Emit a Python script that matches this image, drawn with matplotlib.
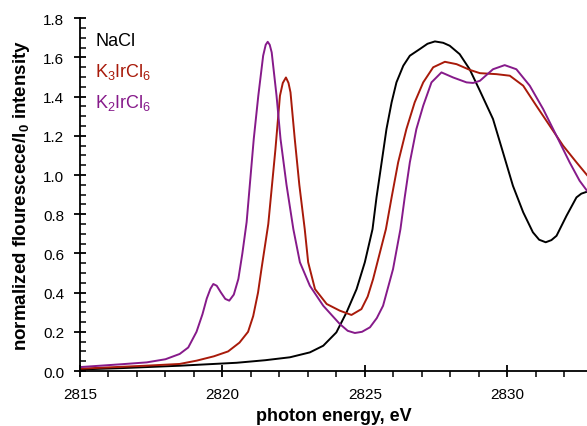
import matplotlib
matplotlib.use("Agg")
import matplotlib.pyplot as plt
from matplotlib.ticker import MultipleLocator, FormatStrFormatter

plt.rcParams["font.family"] = ["Liberation Sans", "DejaVu Sans"]

# NaCl reference
nacl_x = [2815, 2816.5, 2818.5, 2820.5, 2821.5, 2822.37, 2823.07, 2823.54, 2824.0,
          2824.36, 2824.71, 2825.0, 2825.27, 2825.41, 2825.59, 2825.76, 2825.94,
          2826.11, 2826.35, 2826.58, 2826.93, 2827.2, 2827.46, 2827.75, 2827.98,
          2828.33, 2828.68, 2829.04, 2829.5, 2829.85, 2830.2, 2830.56, 2830.9,
          2831.12, 2831.35, 2831.55, 2831.73, 2832.08, 2832.43, 2832.6, 2832.8]
nacl_y = [0.008, 0.015, 0.027, 0.042, 0.055, 0.07, 0.095, 0.129, 0.197,
          0.30, 0.418, 0.555, 0.724, 0.886, 1.065, 1.235, 1.371,
          1.473, 1.558, 1.609, 1.643, 1.67, 1.682, 1.675, 1.66,
          1.617, 1.54, 1.43, 1.286, 1.116, 0.945, 0.81, 0.708,
          0.67, 0.657, 0.668, 0.69, 0.792, 0.886, 0.905, 0.915]

# K3IrCl6
k3_x = [2815, 2817.3, 2818.5, 2819.1, 2819.7, 2820.2, 2820.6, 2820.9, 2821.08,
        2821.25, 2821.37, 2821.61, 2821.86, 2822.02, 2822.12, 2822.23, 2822.32,
        2822.39, 2822.54, 2822.7, 2822.89, 2823.01, 2823.25, 2823.66, 2824.12,
        2824.53, 2824.88, 2825.1, 2825.29, 2825.59, 2825.74, 2825.94, 2826.17,
        2826.46, 2826.75, 2827.05, 2827.4, 2827.81, 2828.22, 2828.68, 2829.04,
        2829.62, 2830.09, 2830.56, 2831.02, 2831.49, 2831.96, 2832.43, 2832.8]
k3_y = [0.012, 0.027, 0.036, 0.053, 0.075, 0.10, 0.145, 0.2, 0.28,
        0.40, 0.52, 0.75, 1.13, 1.405, 1.47, 1.498, 1.47,
        1.422, 1.184, 0.95, 0.724, 0.555, 0.418, 0.342, 0.308,
        0.286, 0.316, 0.38, 0.469, 0.639, 0.724, 0.886, 1.065,
        1.235, 1.371, 1.473, 1.55, 1.578, 1.566, 1.537, 1.52,
        1.515, 1.507, 1.456, 1.354, 1.252, 1.15, 1.065, 1.0]

# K2IrCl6
k2_x = [2815, 2816.5, 2817.34, 2818.0, 2818.5, 2818.8, 2819.09, 2819.3, 2819.45,
        2819.58, 2819.68, 2819.8, 2819.95, 2820.1, 2820.24, 2820.4, 2820.56,
        2820.7, 2820.85, 2821.1, 2821.26, 2821.43, 2821.52, 2821.59, 2821.66,
        2821.73, 2821.9, 2822.04, 2822.25, 2822.49, 2822.72, 2823.07, 2823.54,
        2824.12, 2824.4, 2824.65, 2824.9, 2825.18, 2825.42, 2825.64, 2825.99,
        2826.25, 2826.4, 2826.58, 2826.81, 2827.05, 2827.34, 2827.69, 2828.1,
        2828.57, 2828.8, 2829.04, 2829.5, 2829.91, 2830.32, 2830.79, 2831.26,
        2831.73, 2832.19, 2832.54, 2832.8]
k2_y = [0.02, 0.035, 0.044, 0.06, 0.087, 0.12, 0.20, 0.29, 0.37,
        0.42, 0.444, 0.435, 0.40, 0.368, 0.359, 0.39, 0.47,
        0.60, 0.76, 1.184, 1.405, 1.609, 1.665, 1.68, 1.665,
        1.626, 1.405, 1.184, 0.95, 0.724, 0.555, 0.435, 0.333,
        0.24, 0.205, 0.194, 0.2, 0.223, 0.27, 0.333, 0.52,
        0.724, 0.886, 1.065, 1.235, 1.354, 1.473, 1.524, 1.498,
        1.473, 1.47, 1.481, 1.54, 1.561, 1.54, 1.456, 1.337,
        1.2, 1.065, 0.971, 0.92]

BLACK = "#000000"
RED = "#a81a0a"
PURPLE = "#861a8a"

fig = plt.figure(figsize=(5.87, 4.27), dpi=100)
ax = fig.add_axes([0.1363, 0.1288, 0.8637, 0.826])

# plot spectra
ax.plot(nacl_x, nacl_y, color=BLACK, lw=1.4)
ax.plot(k3_x, k3_y, color=RED, lw=1.4)
ax.plot(k2_x, k2_y, color=PURPLE, lw=1.4)

ax.set_xlim(2815, 2832.8)
ax.set_ylim(0, 1.8)

for side in ("top", "right"):
    ax.spines[side].set_visible(False)
ax.spines["left"].set_linewidth(1.3)
ax.spines["bottom"].set_linewidth(1.3)

ax.xaxis.set_major_locator(MultipleLocator(5))
ax.xaxis.set_minor_locator(MultipleLocator(1))
ax.yaxis.set_major_locator(MultipleLocator(0.2))
ax.yaxis.set_minor_locator(MultipleLocator(0.05))
ax.yaxis.set_major_formatter(FormatStrFormatter("%.1f"))
ax.tick_params(which="major", direction="inout", length=9, width=1.3,
               labelsize=11, pad=7)
ax.tick_params(axis="y", which="minor", direction="in", length=4, width=1.1)
ax.tick_params(axis="x", which="minor", direction="out", length=4, width=1.1)

ax.set_xlabel("photon energy, eV", fontsize=13, fontweight="bold", labelpad=4)
ax.set_ylabel("normalized flourescece/I$_\\mathregular{0}$ intensity",
              fontsize=13.5, fontweight="bold", labelpad=8)

# series labels
lab = dict(fontsize=13, transform=ax.transAxes, va="center", ha="left")
ax.text(0.03, 0.937, "NaCl", color=BLACK, **lab)
ax.text(0.03, 0.852, "K$_\\mathregular{3}$IrCl$_\\mathregular{6}$", color=RED, **lab)
ax.text(0.03, 0.764, "K$_\\mathregular{2}$IrCl$_\\mathregular{6}$", color=PURPLE, **lab)

fig.savefig("out.png", dpi=100)
